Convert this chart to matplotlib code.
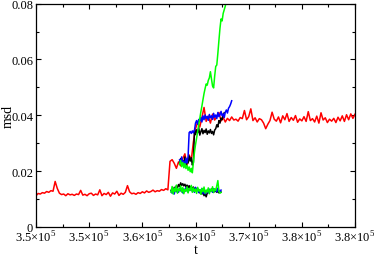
#!/usr/bin/env python3
"""
msd vs t plot (xmgrace style)
"""

import numpy as np
import matplotlib
matplotlib.use('Agg')
import matplotlib.pyplot as plt
from matplotlib.ticker import MultipleLocator, FuncFormatter

# red: long run, t = 350000 .. 380000, step 200
red_t0, red_dt = 350000, 200
red_msd = [
    0.0112, 0.0120, 0.0118, 0.0123, 0.0121, 0.0127, 0.0124, 0.0130, 0.0128, 0.0163,
    0.0138, 0.0121, 0.0116, 0.0118, 0.0112, 0.0119, 0.0115, 0.0117, 0.0113, 0.0118,
    0.0116, 0.0131, 0.0114, 0.0117, 0.0112, 0.0119, 0.0121, 0.0113, 0.0118, 0.0115,
    0.0133, 0.0112, 0.0120, 0.0116, 0.0124, 0.0110, 0.0122, 0.0118, 0.0128, 0.0113,
    0.0121, 0.0117, 0.0124, 0.0148, 0.0126, 0.0119, 0.0121, 0.0117, 0.0123, 0.0120,
    0.0126, 0.0122, 0.0129, 0.0124, 0.0127, 0.0132, 0.0126, 0.0130, 0.0128, 0.0134,
    0.0131, 0.0137, 0.0133, 0.0235, 0.0241, 0.0228, 0.0210, 0.0233, 0.0219, 0.0245,
    0.0262, 0.0221, 0.0258, 0.0240, 0.0305, 0.0352, 0.0375, 0.0358, 0.0392, 0.0428,
    0.0378, 0.0397, 0.0372, 0.0404, 0.0383, 0.0396, 0.0410, 0.0380, 0.0392, 0.0376,
    0.0389, 0.0381, 0.0394, 0.0383, 0.0386, 0.0379, 0.0392, 0.0388, 0.0417, 0.0384,
    0.0395, 0.0423, 0.0381, 0.0391, 0.0376, 0.0388, 0.0384, 0.0372, 0.0352, 0.0368,
    0.0381, 0.0411, 0.0386, 0.0379, 0.0394, 0.0373, 0.0398, 0.0384, 0.0406, 0.0378,
    0.0392, 0.0382, 0.0399, 0.0375, 0.0387, 0.0380, 0.0395, 0.0378, 0.0413, 0.0381,
    0.0388, 0.0376, 0.0397, 0.0372, 0.0409, 0.0383, 0.0391, 0.0374, 0.0386, 0.0379,
    0.0389, 0.0374, 0.0393, 0.0380, 0.0398, 0.0378, 0.0402, 0.0384, 0.0405, 0.0389,
    0.0404,
]

# upper branches, step 100, starting at t = 363500
up_t0, up_dt = 363500, 100
blue_up = [
    0.0240, 0.0228, 0.0251, 0.0223, 0.0236, 0.0215, 0.0246, 0.0229, 0.0252, 0.0338,
    0.0342, 0.0335, 0.0344, 0.0337, 0.0346, 0.0372, 0.0381, 0.0368, 0.0385, 0.0379,
    0.0392, 0.0376, 0.0398, 0.0384, 0.0401, 0.0389, 0.0396, 0.0382, 0.0403, 0.0391,
    0.0398, 0.0385, 0.0407, 0.0393, 0.0401, 0.0388, 0.0410, 0.0395, 0.0402, 0.0414,
    0.0398, 0.0405, 0.0392, 0.0411, 0.0419, 0.0408, 0.0425, 0.0431, 0.0440, 0.0452,
]
black_up = [
    0.0232, 0.0245, 0.0221, 0.0238, 0.0226, 0.0251, 0.0219, 0.0242, 0.0229, 0.0254,
    0.0236, 0.0248, 0.0222, 0.0231, 0.0346, 0.0331, 0.0348, 0.0337, 0.0355, 0.0329,
    0.0341, 0.0352, 0.0334, 0.0346, 0.0338, 0.0351, 0.0332, 0.0344, 0.0337, 0.0349,
    0.0335, 0.0342, 0.0330, 0.0347, 0.0352, 0.0366, 0.0358, 0.0381, 0.0372, 0.0390,
    0.0384, 0.0402, 0.0409,
]
green_up = [
    0.0224, 0.0238, 0.0216, 0.0231, 0.0212, 0.0227, 0.0209, 0.0221, 0.0203, 0.0215,
    0.0198, 0.0210, 0.0194, 0.0232, 0.0268, 0.0295, 0.0318, 0.0342, 0.0365, 0.0388,
    0.0412, 0.0433, 0.0456, 0.0478, 0.0496, 0.0512, 0.0508, 0.0525, 0.0534, 0.0556,
    0.0530, 0.0505, 0.0498, 0.0540, 0.0575, 0.0580, 0.0622, 0.0668, 0.0712, 0.0745,
    0.0738, 0.0765, 0.0778, 0.0791, 0.0812, 0.0835,
]

# lower branches, step 100, starting at t = 362700
lo_t0, lo_dt = 362700, 100
blue_lo = [
    0.0128, 0.0121, 0.0135, 0.0118, 0.0140, 0.0126, 0.0132, 0.0124, 0.0138, 0.0129,
    0.0133, 0.0122, 0.0136, 0.0127, 0.0141, 0.0130, 0.0125, 0.0137, 0.0131, 0.0139,
    0.0128, 0.0134, 0.0124, 0.0142, 0.0130, 0.0136, 0.0123, 0.0133, 0.0127, 0.0138,
    0.0120, 0.0129, 0.0118, 0.0126, 0.0132, 0.0122, 0.0135, 0.0127, 0.0131, 0.0124,
    0.0137, 0.0129, 0.0134, 0.0126, 0.0139, 0.0130, 0.0125, 0.0132,
]
black_lo = [
    0.0131, 0.0138, 0.0129, 0.0142, 0.0136, 0.0147, 0.0140, 0.0152, 0.0145, 0.0158,
    0.0149, 0.0155, 0.0147, 0.0153, 0.0144, 0.0150, 0.0141, 0.0148, 0.0139, 0.0145,
    0.0136, 0.0143, 0.0134, 0.0140, 0.0130, 0.0137, 0.0127, 0.0122, 0.0130, 0.0118,
    0.0125, 0.0112, 0.0119, 0.0108, 0.0121, 0.0127, 0.0134, 0.0129, 0.0136, 0.0128,
    0.0133, 0.0126, 0.0131, 0.0124, 0.0129, 0.0122, 0.0127, 0.0125,
]
green_lo = [
    0.0124, 0.0145, 0.0118, 0.0139, 0.0127, 0.0150, 0.0121, 0.0136, 0.0130, 0.0147,
    0.0125, 0.0141, 0.0119, 0.0135, 0.0128, 0.0144, 0.0122, 0.0138, 0.0131, 0.0149,
    0.0124, 0.0140, 0.0127, 0.0136, 0.0120, 0.0142, 0.0129, 0.0134, 0.0117, 0.0138,
    0.0126, 0.0143, 0.0121, 0.0132, 0.0125, 0.0140, 0.0119, 0.0135, 0.0128, 0.0144,
    0.0123, 0.0137, 0.0130, 0.0148, 0.0166, 0.0127, 0.0121, 0.0124,
]


def times(t0, dt, vals):
    """サンプル時刻"""
    return t0 + dt * np.arange(len(vals))


def x_fmt(v, pos):
    return f'{v / 1e5:.1f}' + r'$\times$10$^{5}$'


def y_fmt(v, pos):
    return f'{v:g}'


def main():
    plt.rcParams['font.family'] = ['Liberation Serif', 'DejaVu Serif']
    plt.rcParams['mathtext.fontset'] = 'custom'
    plt.rcParams['mathtext.rm'] = 'Liberation Serif'

    fig = plt.figure(figsize=(3.74, 2.55), dpi=100)
    ax = fig.add_axes([0.0963, 0.106, 0.853, 0.876])

    lw = 1.1
    ax.plot(times(red_t0, red_dt, red_msd), red_msd, color='#ff0000', lw=lw)
    ax.plot(times(up_t0, up_dt, black_up), black_up, color='black', lw=lw)
    ax.plot(times(up_t0, up_dt, blue_up), blue_up, color='#0000ff', lw=lw)
    ax.plot(times(up_t0, up_dt, green_up), green_up, color='#00ff00', lw=lw)
    ax.plot(times(lo_t0, lo_dt, black_lo), black_lo, color='black', lw=lw)
    ax.plot(times(lo_t0, lo_dt, blue_lo), blue_lo, color='#0000ff', lw=lw)
    ax.plot(times(lo_t0, lo_dt, green_lo), green_lo, color='#00ff00', lw=lw)

    ax.set_xlim(350000, 380000)
    ax.set_ylim(0, 0.08)

    # 目盛り（四辺・内向き）
    ax.xaxis.set_major_locator(MultipleLocator(5000))
    ax.xaxis.set_minor_locator(MultipleLocator(2500))
    ax.yaxis.set_major_locator(MultipleLocator(0.02))
    ax.yaxis.set_minor_locator(MultipleLocator(0.01))
    ax.xaxis.set_major_formatter(FuncFormatter(x_fmt))
    ax.yaxis.set_major_formatter(FuncFormatter(y_fmt))
    ax.tick_params(which='both', direction='in', top=True, right=True,
                   labelsize=9, width=0.8, pad=2)
    ax.tick_params(which='major', length=3.5)
    ax.tick_params(which='minor', length=2)
    for s in ax.spines.values():
        s.set_linewidth(0.9)

    ax.set_xlabel('t', fontsize=10)
    ax.set_ylabel('msd', fontsize=10)
    ax.xaxis.set_label_coords(0.5, -0.07)
    ax.yaxis.set_label_coords(-0.068, 0.5)

    fig.savefig('out.png', dpi=100)


if __name__ == '__main__':
    main()
